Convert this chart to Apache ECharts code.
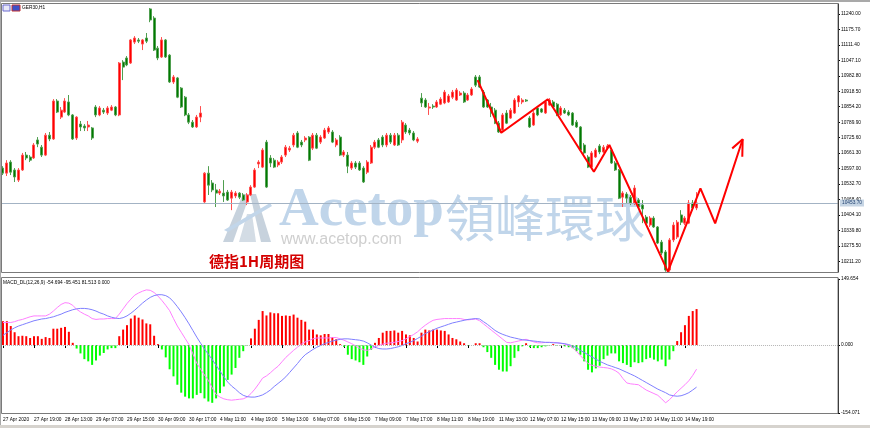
<!DOCTYPE html>
<html>
<head>
<meta charset="utf-8">
<title>GER30,H1</title>
<script src="https://cdn.jsdelivr.net/npm/echarts@6/dist/echarts.min.js"></script>
<style>
  html, body { margin: 0; padding: 0; background: #fff; }
  #chart { width: 870px; height: 428px; }
</style>
</head>
<body>
<div id="chart"></div>
<script>
// time labels, one every 8 hourly bars
var timeLabels = ['27 Apr 2020', '27 Apr 19:00', '28 Apr 13:00', '29 Apr 07:00', '29 Apr 15:00',
  '30 Apr 09:00', '30 Apr 17:00', '4 May 11:00', '4 May 19:00', '5 May 13:00', '6 May 07:00',
  '6 May 15:00', '7 May 09:00', '7 May 17:00', '8 May 11:00', '8 May 19:00', '11 May 13:00',
  '12 May 07:00', '12 May 15:00', '13 May 09:00', '13 May 17:00', '14 May 11:00', '14 May 19:00'];
var labelStep = 8;
var slotCount = 216; // visible bar slots incl. empty space on the right

var opens = [10599,10578,10624,10591,10549,10591,10653,10645,10641,10716,
  10686,10653,10736,10720,10878,10811,10832,10874,10820,10724,
  10782,10774,10770,10766,10853,10820,10840,10828,10840,10853,
  10820,11040,11057,11036,11123,11132,11115,11140,11261,11223,
  11098,11061,11132,11069,10957,10974,10932,10894,10820,10790,
  10770,10811,10458,10578,10537,10508,10495,10495,10499,10474,
  10483,10495,10487,10458,10487,10520,10616,10603,10707,10641,
  10632,10612,10624,10653,10674,10695,10745,10707,10716,10728,
  10682,10736,10707,10724,10749,10749,10695,10728,10653,10653,
  10599,10620,10620,10599,10582,10620,10686,10716,10728,10695,
  10736,10695,10736,10716,10778,10757,10745,10711,10890,10882,
  10849,10857,10853,10865,10870,10874,10894,10882,10903,10911,
  10882,10903,10978,10978,10915,10882,10853,10840,10786,10757,
  10828,10807,10828,10874,10874,10882,10807,10778,10849,10845,
  10828,10861,10874,10865,10820,10840,10832,10828,10790,10770,
  10695,10645,10603,10645,10691,10666,10682,10674,10620,10591,
  10478,10491,10478,10454,10466,10445,10395,10362,10391,10354,
  10291,10250,10175,10300,10312,10404,10370,10370,10454,10433];
var closes = [10578,10620,10582,10562,10591,10653,10641,10632,10695,10699,
  10653,10736,10720,10878,10832,10840,10878,10820,10720,10811,
  10770,10766,10778,10724,10820,10849,10832,10849,10853,10820,
  11036,11019,11028,11132,11140,11127,11132,11127,11215,11090,
  11057,11132,11061,10957,10978,10894,10853,10820,10790,10770,
  10811,10828,10578,10528,10508,10495,10503,10483,10466,10499,
  10495,10478,10466,10487,10520,10591,10624,10674,10520,10620,
  10603,10624,10645,10686,10682,10736,10686,10695,10724,10632,
  10736,10682,10728,10757,10766,10707,10716,10653,10666,10607,
  10620,10603,10591,10541,10624,10686,10707,10686,10695,10736,
  10707,10736,10695,10790,10749,10745,10716,10720,10870,10853,
  10853,10853,10874,10886,10915,10899,10915,10924,10911,10874,
  10903,10928,10944,10936,10853,10853,10828,10786,10749,10820,
  10786,10840,10882,10899,10882,10878,10770,10828,10820,10832,
  10874,10882,10853,10820,10849,10828,10820,10778,10770,10674,
  10662,10603,10662,10674,10666,10686,10691,10620,10591,10474,
  10495,10474,10454,10516,10437,10429,10370,10391,10354,10287,
  10246,10175,10300,10362,10374,10374,10391,10454,10433,10454];
var lows = [10570,10566,10570,10541,10541,10587,10632,10624,10637,10686,
  10645,10649,10711,10716,10828,10803,10828,10815,10716,10716,
  10753,10753,10753,10716,10811,10815,10824,10820,10836,10815,
  10815,10965,11023,11032,11115,11119,11090,11119,11206,11086,
  11048,11057,11057,10953,10949,10890,10849,10815,10782,10766,
  10766,10790,10454,10487,10499,10437,10487,10458,10462,10424,
  10474,10470,10462,10445,10483,10516,10599,10599,10516,10603,
  10599,10603,10616,10645,10666,10686,10682,10686,10707,10628,
  10674,10678,10699,10720,10741,10703,10686,10649,10645,10578,
  10591,10595,10587,10537,10574,10616,10678,10682,10686,10686,
  10699,10691,10691,10703,10741,10736,10711,10703,10853,10849,
  10820,10845,10849,10861,10865,10870,10886,10878,10899,10870,
  10878,10899,10936,10932,10849,10849,10811,10782,10745,10753,
  10782,10803,10824,10853,10865,10874,10766,10774,10815,10828,
  10824,10857,10849,10815,10815,10824,10815,10774,10766,10670,
  10649,10599,10595,10641,10657,10662,10674,10616,10587,10470,
  10437,10454,10445,10445,10429,10370,10366,10354,10350,10283,
  10237,10168,10168,10291,10304,10362,10362,10366,10424,10424];
var highs = [10607,10632,10632,10599,10599,10662,10666,10653,10703,10728,
  10695,10745,10749,10886,10886,10853,10890,10903,10824,10815,
  10795,10782,10795,10770,10861,10857,10849,10857,10861,10857,
  11040,11048,11065,11136,11148,11140,11136,11161,11265,11231,
  11107,11144,11136,11073,10986,10978,10936,10899,10828,10799,
  10820,10857,10582,10607,10549,10533,10512,10549,10508,10508,
  10503,10499,10495,10495,10528,10599,10632,10682,10716,10653,
  10641,10632,10653,10695,10691,10745,10753,10716,10732,10732,
  10745,10745,10736,10766,10774,10757,10724,10736,10674,10666,
  10628,10628,10628,10607,10632,10695,10716,10724,10736,10745,
  10745,10745,10745,10799,10786,10766,10753,10728,10911,10890,
  10870,10865,10882,10894,10924,10907,10924,10932,10919,10919,
  10911,10936,10986,10986,10924,10886,10870,10849,10795,10828,
  10840,10849,10890,10903,10890,10886,10815,10836,10857,10849,
  10882,10890,10882,10870,10857,10849,10840,10832,10799,10774,
  10703,10653,10670,10682,10699,10695,10699,10682,10628,10595,
  10503,10499,10487,10528,10474,10466,10404,10399,10399,10358,
  10300,10258,10308,10374,10383,10424,10399,10466,10466,10499];

// MACD_DL(12,26,9): fast line, signal line, histogram
var macdLine = [51,51,51,53,56,58,61,64,66,66,
  66,66,70,77,85,92,96,95,90,81,
  75,70,66,60,58,59,59,60,60,60,
  70,82,94,104,113,118,122,125,124,119,
  111,101,90,78,60,43,29,15,1,-20,
  -41,-55,-68,-80,-97,-112,-118,-122,-124,-125,
  -124,-123,-122,-118,-110,-100,-88,-75,-70,-63,
  -55,-48,-38,-28,-20,-12,-5,2,7,10,
  14,16,16,16,16,17,17,14,11,7,
  3,-2,-7,-11,-12,-9,-4,-1,2,4,
  5,6,8,10,14,19,24,30,38,45,
  51,56,58,59,60,60,60,60,60,58,
  57,58,59,55,48,41,34,27,20,13,
  6,5,7,9,11,13,10,7,5,5,
  6,6,6,5,4,2,-1,-6,-14,-24,
  -33,-42,-46,-48,-50,-51,-52,-54,-58,-64,
  -76,-86,-88,-89,-90,-96,-102,-106,-110,-114,
  -122,-131,-124,-115,-106,-98,-90,-81,-69,-54.694];
var signalLine = [22,28,34,39,43,46,49,52,55,57,
  59,60,62,64,67,70,74,77,80,82,
  83,83,82,80,77,73,70,66,63,61,
  60,62,66,72,79,87,95,102,108,112,
  114,114,112,107,98,87,75,62,48,33,
  18,4,-9,-21,-33,-46,-59,-72,-84,-93,
  -100,-108,-114,-117,-118,-118,-116,-113,-108,-102,
  -94,-87,-80,-72,-62,-52,-42,-31,-22,-16,
  -10,-5,-1,3,6,9,11,13,14,14,
  13,12,11,9,5,0,-5,-8,-9,-9,
  -8,-6,-4,-1,3,6,10,15,20,26,
  30,34,38,41,44,47,50,52,54,56,
  58,59,60,59,53,47,40,33,28,24,
  21,18,16,14,12,11,10,9,8,7,
  6,6,5,5,4,3,1,-2,-6,-12,
  -17,-22,-27,-32,-37,-41,-45,-48,-51,-54,
  -58,-62,-66,-70,-75,-80,-85,-90,-95,-100,
  -104,-108,-113,-115,-116,-115,-112,-108,-102,-95.451];
var histValues = [54,54,43,29,20,21,20,16,20,20,
  14,18,16,37,37,39,41,30,5,-8,
  -19,-32,-37,-45,-35,-24,-18,-10,-7,-7,
  20,35,45,60,67,62,58,49,47,21,
  2,-10,-28,-55,-71,-90,-108,-117,-121,-121,
  -113,-109,-121,-128,-131,-121,-109,-94,-79,-67,
  -52,-29,-14,-1,15,37,57,77,67,74,
  72,72,66,67,66,69,62,57,53,35,
  35,24,22,25,25,18,13,2,-4,-22,
  -32,-35,-39,-45,-26,-11,5,16,28,32,
  32,33,28,32,24,22,16,8,28,35,
  33,35,35,33,32,24,16,13,8,4,
  -1,0,4,4,-5,-16,-29,-45,-56,-60,
  -60,-48,-29,-14,-3,4,-5,-7,-7,-5,
  -3,-1,2,-1,-1,-3,-5,-7,-14,-22,
  -37,-56,-62,-53,-47,-32,-24,-19,-19,-37,
  -41,-45,-50,-39,-41,-39,-32,-29,-33,-37,
  -33,-48,-33,-14,9,29,45,66,77,81.513];

// axis tick values
var priceTicks = [11240.00, 11175.70, 11111.40, 11047.10, 10982.80, 10918.50, 10854.20,
  10789.90, 10725.60, 10661.30, 10597.00, 10532.70, 10468.40, 10404.10, 10339.80,
  10275.50, 10211.20];
var macdTicks = [149.654, 0, -154.071];
var priceMin = 10166.7, priceMax = 11281.6;
var lastPrice = 10453.7;

// hand drawn forecast zigzag (bar position, price)
var zigzagBars = [122.5, 128.6, 140.6, 152.5, 156.5, 171.6, 180.0, 183.8, 190.9];
var zigzagPrices = [10965, 10746, 10885, 10584, 10695, 10168, 10515, 10369, 10719];
var arrowBars = [188.2, 190.9, 190.8];
var arrowPrices = [10681, 10719, 10646];

var categories = [];
for (var i = 0; i < slotCount; i++) {
  var k = i / labelStep;
  categories.push(i % labelStep === 0 && k < timeLabels.length ? timeLabels[k] : '');
}
var candles = opens.map(function (o, i) { return [o, closes[i], lows[i], highs[i]]; });
var zigzag = zigzagBars.map(function (b, i) { return [b, zigzagPrices[i]]; });
var arrow = arrowBars.map(function (b, i) { return [b, arrowPrices[i]]; });

var smallFont = 'Liberation Sans';
var chart = echarts.init(document.getElementById('chart'));
var option = {
  animation: false,
  backgroundColor: '#fff',
  grid: [
    { left: 1, top: 4, width: 837, height: 268 },
    { left: 1, top: 279, width: 837, height: 134 }
  ],
  xAxis: [
    { type: 'category', gridIndex: 0, data: categories, boundaryGap: true,
      axisLine: { show: false }, axisTick: { show: false }, axisLabel: { show: false } },
    { type: 'category', gridIndex: 1, data: categories, boundaryGap: true,
      axisLine: { show: false },
      axisTick: { show: true, alignWithLabel: true, length: 3,
        interval: function (i, v) { return v !== ''; }, lineStyle: { color: '#000' } },
      axisLabel: { interval: function (i, v) { return v !== ''; }, align: 'left',
        fontSize: 4.8, fontFamily: smallFont, color: '#000', margin: 4 } },
    { type: 'value', gridIndex: 0, min: -0.5, max: slotCount - 0.5, show: false }
  ],
  yAxis: [
    { type: 'value', gridIndex: 0, position: 'right', min: priceMin, max: priceMax,
      splitLine: { show: false },
      axisLine: { show: true, onZero: false, lineStyle: { color: '#000' } },
      axisTick: { show: true, length: 2, customValues: priceTicks, lineStyle: { color: '#000' } },
      axisLabel: { customValues: priceTicks, fontSize: 4.8, fontFamily: smallFont, color: '#000',
        margin: 3, formatter: function (v) { return v.toFixed(2); } } },
    { type: 'value', gridIndex: 1, position: 'right', min: macdTicks[2], max: macdTicks[0],
      splitLine: { show: false },
      axisLine: { show: true, onZero: false, lineStyle: { color: '#000' } },
      axisTick: { show: true, length: 2, customValues: macdTicks, lineStyle: { color: '#000' } },
      axisLabel: { customValues: macdTicks, fontSize: 4.8, fontFamily: smallFont, color: '#000',
        margin: 3, formatter: function (v) { return v.toFixed(3); } } }
  ],
  series: [
    {
      type: 'candlestick', xAxisIndex: 0, yAxisIndex: 0, data: candles, barWidth: 2.4,
      itemStyle: { color: '#ff0000', color0: '#007a00', borderColor: '#ff5050',
        borderColor0: '#4f9f4f', borderWidth: 1 },
      markLine: {
        silent: true, symbol: 'none',
        lineStyle: { color: '#a3b3c4', width: 1, type: 'solid' },
        label: { show: true, position: 'end', distance: 2, fontSize: 4.8, fontFamily: smallFont,
          color: '#1f3f6f', backgroundColor: '#c6d5e4', padding: [1, 2],
          formatter: function (p) { return p.value.toFixed(2); } },
        data: [{ yAxis: lastPrice }]
      }
    },
    {
      type: 'line', xAxisIndex: 2, yAxisIndex: 0, data: zigzag, symbol: 'none', z: 10,
      lineStyle: { color: '#ff0000', width: 2 }
    },
    {
      type: 'line', xAxisIndex: 2, yAxisIndex: 0, data: arrow, symbol: 'none', z: 10,
      lineStyle: { color: '#ff0000', width: 2 }
    },
    {
      type: 'bar', xAxisIndex: 1, yAxisIndex: 1, data: histValues, barWidth: 2,
      itemStyle: { color: function (p) { return p.value >= 0 ? '#ff0000' : '#00ff00'; } },
      markLine: {
        silent: true, symbol: 'none', label: { show: false },
        lineStyle: { color: '#b5b5b5', width: 1, type: 'dotted' },
        data: [{ yAxis: 0 }]
      }
    },
    {
      type: 'line', xAxisIndex: 1, yAxisIndex: 1, data: macdLine, symbol: 'none',
      lineStyle: { color: '#ff80ff', width: 1 }
    },
    {
      type: 'line', xAxisIndex: 1, yAxisIndex: 1, data: signalLine, symbol: 'none',
      lineStyle: { color: '#7f7fff', width: 1 }
    }
  ],
  graphic: [
    // window frames
    { type: 'rect', shape: { x: 0, y: 0, width: 870, height: 2 }, style: { fill: '#a9a9a9' }, silent: true },
    { type: 'rect', shape: { x: 0, y: 0, width: 1, height: 428 }, style: { fill: '#a9a9a9' }, silent: true },
    { type: 'rect', shape: { x: 0, y: 425, width: 870, height: 3 }, style: { fill: '#d6d3ce' }, silent: true },
    { type: 'rect', shape: { x: 1.5, y: 3.5, width: 836.5, height: 269 }, style: { fill: null, stroke: '#7a7a7a', lineWidth: 1 }, silent: true, z: 20 },
    { type: 'rect', shape: { x: 1.5, y: 277.5, width: 836.5, height: 136 }, style: { fill: null, stroke: '#7a7a7a', lineWidth: 1 }, silent: true, z: 20 },
    // watermark
    { type: 'polygon', shape: { points: [[223, 242], [243, 194], [250, 194], [233, 242]] }, style: { fill: '#c7d2dd' }, silent: true },
    { type: 'polygon', shape: { points: [[250, 194], [256, 194], [271, 242], [261, 242]] }, style: { fill: '#c7d2dd' }, silent: true },
    { type: 'polygon', shape: { points: [[239, 242], [247, 214], [252, 214], [256, 242]] }, style: { fill: '#d3dce5' }, silent: true },
    { type: 'polygon', shape: { points: [[224, 230], [270, 203], [272, 206], [228, 232]] }, style: { fill: '#c2d6ea' }, silent: true },
    { type: 'text', x: 279, y: 211, silent: true,
      style: { text: 'Acetop', font: 'bold 55px "Liberation Serif"', fill: '#c0d5ea', textVerticalAlign: 'middle' } },
    { type: 'text', x: 445, y: 218, silent: true,
      style: { text: '領峰環球', font: '50px "Noto Sans CJK TC"', fill: '#c0d5ea', textVerticalAlign: 'middle' } },
    { type: 'text', x: 281, y: 240, silent: true,
      style: { text: 'www.acetop.com', font: '16px "Liberation Sans"', fill: '#cfcfcf', textVerticalAlign: 'middle' } },
    // annotation title
    { type: 'text', x: 209, y: 261, z: 15, silent: true,
      style: { text: '德指1H周期图', font: 'bold 15px "Noto Sans CJK SC"', fill: '#d40000', textVerticalAlign: 'middle' } },
    // window captions
    { type: 'rect', shape: { x: 3, y: 5, width: 7, height: 6 }, style: { fill: '#e8e8f8', stroke: '#6a6ad0', lineWidth: 1 }, silent: true },
    { type: 'rect', shape: { x: 12, y: 5, width: 8, height: 6 }, style: { fill: '#3c50c8', stroke: '#c03030', lineWidth: 1 }, silent: true },
    { type: 'text', x: 22, y: 8, silent: true,
      style: { text: 'GER30,H1', font: '4.8px "Liberation Sans"', fill: '#000', textVerticalAlign: 'middle' } },
    { type: 'text', x: 3, y: 283, silent: true,
      style: { text: 'MACD_DL(12,26,9) -54.694 -95.451 81.513 0.000', font: '4.8px "Liberation Sans"', fill: '#000', textVerticalAlign: 'middle' } }
  ]
};
chart.setOption(option);
</script>
</body>
</html>
